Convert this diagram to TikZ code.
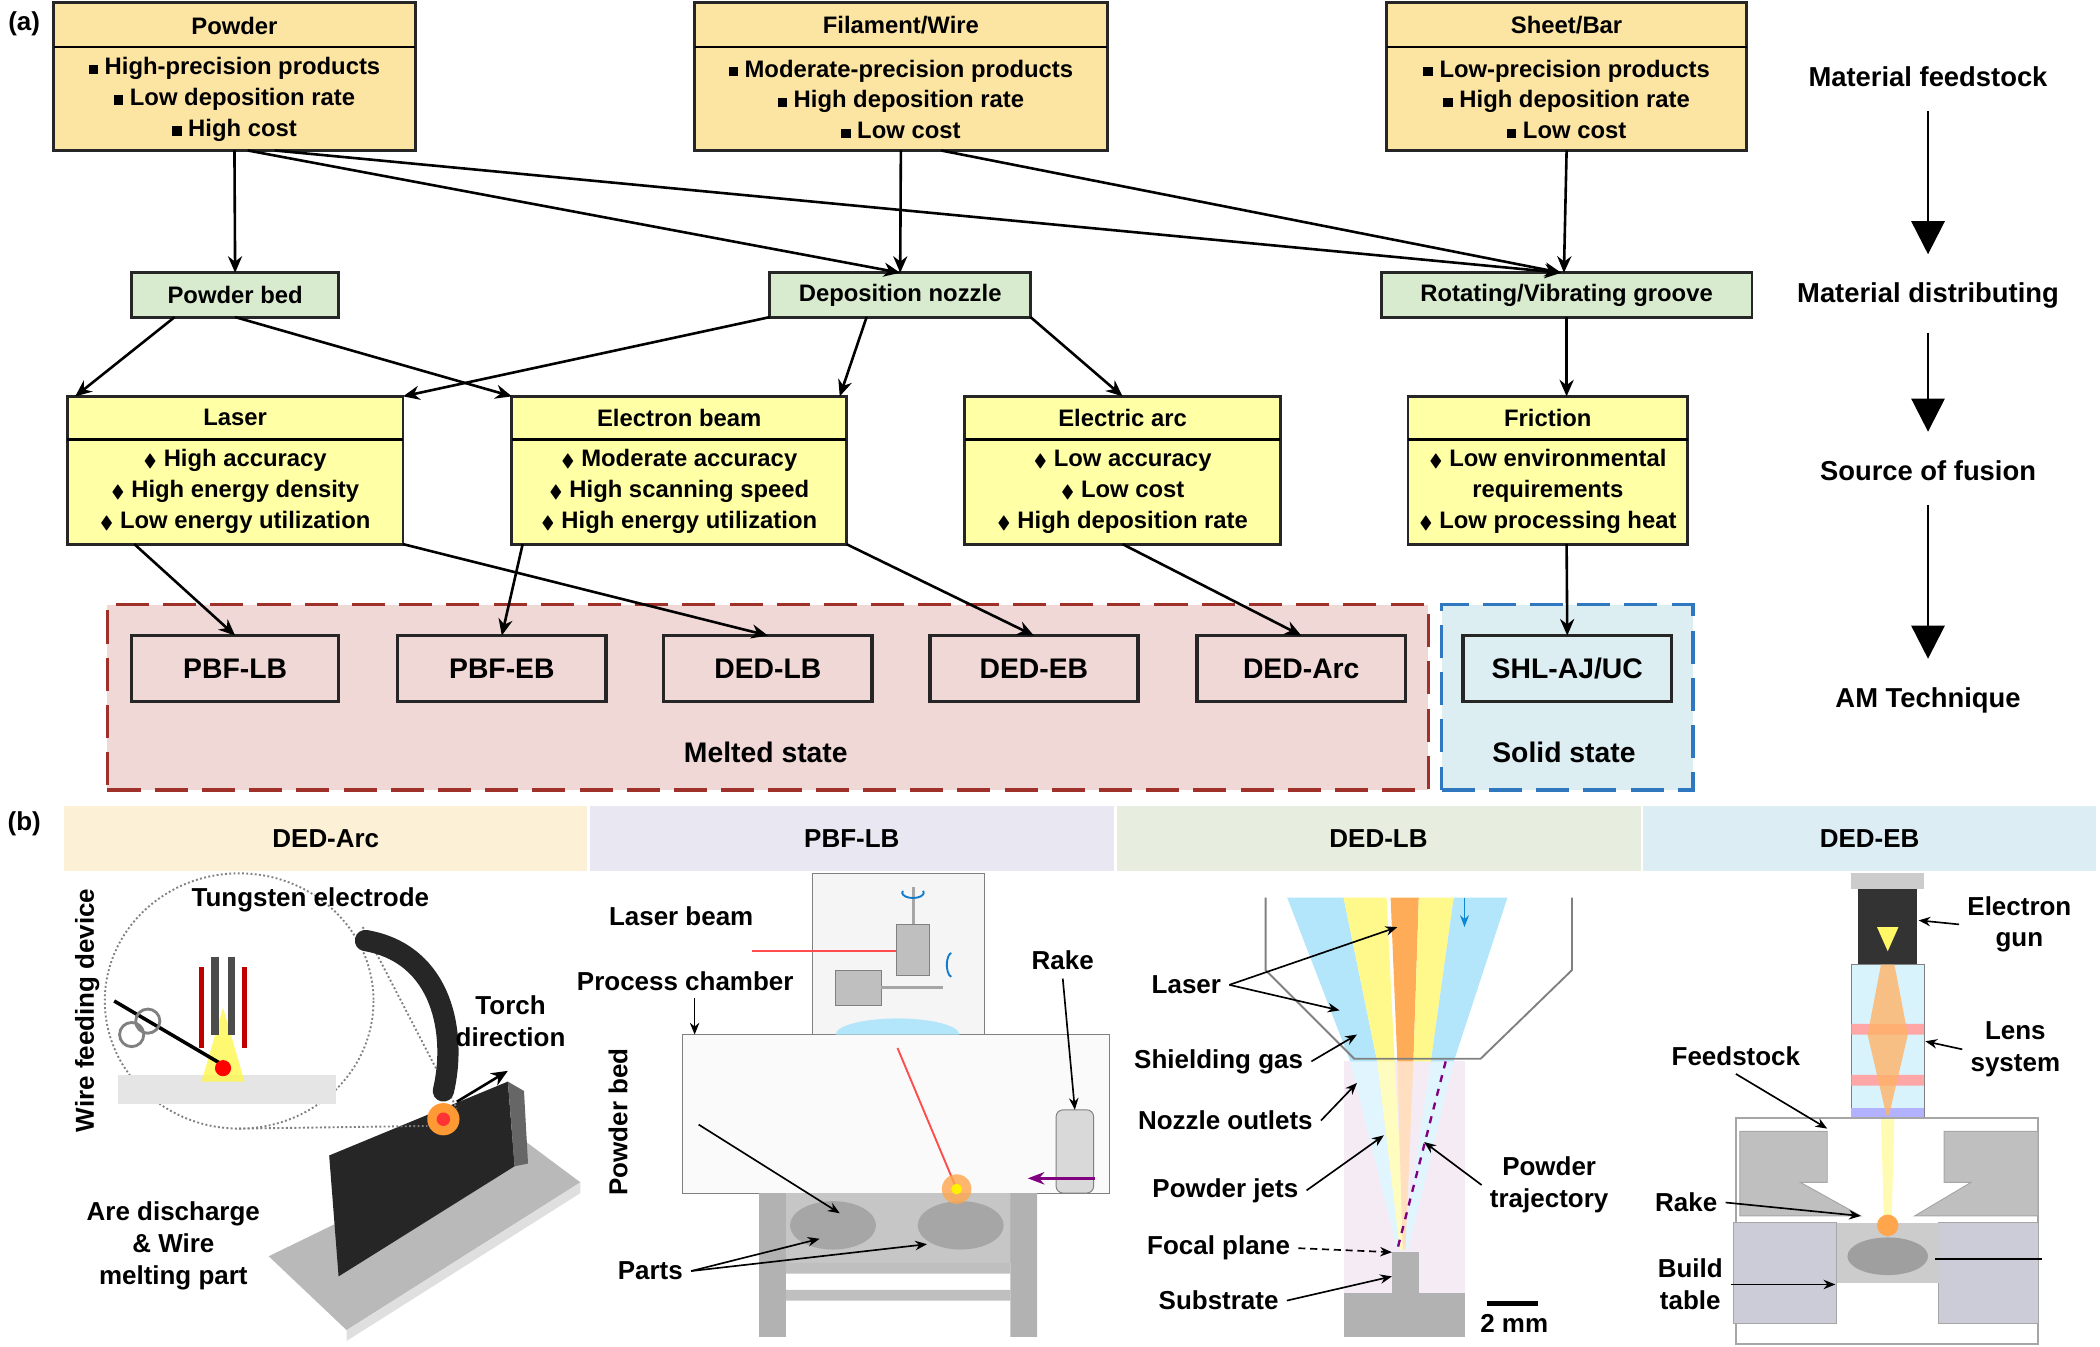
\documentclass[tikz,border=0pt]{standalone}
\usepackage{fontspec}
\setmainfont{Liberation Sans}
\usepackage{amssymb}
\usetikzlibrary{arrows.meta,calc}
\definecolor{feedc}{HTML}{FCE4A2}
\definecolor{distc}{HTML}{D9EBCF}
\definecolor{fusec}{HTML}{FFFFA6}
\definecolor{meltc}{HTML}{F0D8D7}
\definecolor{meltd}{HTML}{A0302A}
\definecolor{solc}{HTML}{DDEEF3}
\definecolor{sold}{HTML}{2F78C0}
\definecolor{hArc}{HTML}{FCF0D6}
\definecolor{hPbf}{HTML}{E9E7F1}
\definecolor{hLb}{HTML}{E8EEDF}
\definecolor{hEb}{HTML}{DCEDF3}
\newcommand\sq{\rule[0.05ex]{0.75ex}{0.75ex}\ }
\newcommand\dm{{\fontsize{7.5}{8}\selectfont$\blacklozenge$}\ }
% box from corner to corner, in pixels of the reference
\newcommand\bx[6]{\node[#6, minimum width={(#4-#2)*0.02cm}, minimum height={(#5-#3)*0.02cm}] (#1) at ({(#2+#4)/2},{(#3+#5)/2}) {};}
\tikzset{
    box/.style = {draw=black!85, line width=1.2pt, inner sep=0, outer sep=0},
    feed/.style = {box, fill=feedc},
    dist/.style = {box, fill=distc},
    fuse/.style = {box, fill=fusec},
    tech/.style = {draw=black!85, line width=1.5pt, fill=meltc, inner sep=0, outer sep=0},
    head/.style = {inner sep=0, outer sep=0},
    txt/.style = {font=\fontsize{10.1}{13.1}\selectfont\bfseries, align=center},
    ttl/.style = {font=\fontsize{12}{14}\selectfont\bfseries},
    lbl/.style = {font=\fontsize{11}{13.5}\selectfont\bfseries, align=center},
    side/.style = {font=\fontsize{11.6}{13}\selectfont\bfseries},
    arr/.style = {-{Stealth[length=7pt,width=6pt]}, line width=1.1pt},
    thin/.style = {-{Stealth[length=5pt,width=4pt]}, line width=0.7pt},
    big/.style = {-{Triangle[length=14pt,width=14pt]}, line width=1.1pt}
}
\begin{document}
\begin{tikzpicture}[x=0.02cm, y=-0.02cm]
    \useasboundingbox (0,0) rectangle (1563,1002);
    % ---------- (a) ----------
    \node[lbl] at (18,18) {(a)};
    \bx{melt}{80}{450}{1063}{588}{draw=meltd, fill=meltc, dashed, dash pattern=on 14pt off 6pt, line width=1.4pt, inner sep=0}
    \bx{solid}{1073}{450}{1260}{588}{draw=sold, fill=solc, dashed, dash pattern=on 14pt off 6pt, line width=1.4pt, inner sep=0}
    \node[ttl] at (570,560) {Melted state};
    \node[ttl] at (1164,560) {Solid state};

    % feedstock
    \bx{powder}{40}{2}{309}{112}{feed}
    \bx{fil}{517}{2}{824}{112}{feed}
    \bx{sheet}{1032}{2}{1300}{112}{feed}
    \foreach \n in {powder, fil, sheet}
        \draw[line width=1.2pt] ($(\n.north west)+(0,33)$) -- ($(\n.north east)+(0,33)$);
    \node[txt] at ($(powder.north)+(0,17)$) {Powder};
    \node[txt] at ($(powder.north)+(0,72)$) {\sq High-precision products\\ \sq Low deposition rate\\ \sq High cost};
    \node[txt] at ($(fil.north)+(0,17)$) {Filament/Wire};
    \node[txt] at ($(fil.north)+(0,72)$) {\sq Moderate-precision products\\ \sq High deposition rate\\ \sq Low cost};
    \node[txt] at ($(sheet.north)+(0,17)$) {Sheet/Bar};
    \node[txt] at ($(sheet.north)+(0,72)$) {\sq Low-precision products\\ \sq High deposition rate\\ \sq Low cost};

    % distributing
    \bx{pbed}{98}{203}{252}{236}{dist}
    \bx{nozzle}{573}{203}{767}{236}{dist}
    \bx{groove}{1028}{203}{1304}{236}{dist}
    \node[txt] at (pbed) {Powder bed};
    \node[txt] at (nozzle) {Deposition nozzle};
    \node[txt] at (groove) {Rotating/Vibrating groove};

    % fusion sources
    \bx{laser}{50}{295}{300}{405}{fuse}
    \bx{ebeam}{381}{295}{630}{405}{fuse}
    \bx{arc}{718}{295}{953}{405}{fuse}
    \bx{fric}{1048}{295}{1256}{405}{fuse}
    \foreach \n in {laser, ebeam, arc, fric}
        \draw[line width=1.2pt] ($(\n.north west)+(0,32)$) -- ($(\n.north east)+(0,32)$);
    \node[txt] at ($(laser.north)+(0,16)$) {Laser};
    \node[txt] at ($(laser.north)+(0,71)$) {\dm High accuracy\\ \dm High energy density\\ \dm Low energy utilization};
    \node[txt] at ($(ebeam.north)+(0,16)$) {Electron beam};
    \node[txt] at ($(ebeam.north)+(0,71)$) {\dm Moderate accuracy\\ \dm High scanning speed\\ \dm High energy utilization};
    \node[txt] at ($(arc.north)+(0,16)$) {Electric arc};
    \node[txt] at ($(arc.north)+(0,71)$) {\dm Low accuracy\\ \dm Low cost\\ \dm High deposition rate};
    \node[txt] at ($(fric.north)+(0,16)$) {Friction};
    \node[txt] at ($(fric.north)+(0,71)$) {\dm Low environmental\\ requirements\\ \dm Low processing heat};

    % techniques
    \bx{pbflb}{98}{473}{252}{522}{tech}
    \bx{pbfeb}{296}{473}{451}{522}{tech}
    \bx{dedlb}{494}{473}{649}{522}{tech}
    \bx{dedeb}{692}{473}{847}{522}{tech}
    \bx{dedarc}{891}{473}{1046}{522}{tech}
    \bx{shl}{1089}{473}{1244}{522}{tech, fill=solc}
    \node[ttl] at (pbflb) {PBF-LB};
    \node[ttl] at (pbfeb) {PBF-EB};
    \node[ttl] at (dedlb) {DED-LB};
    \node[ttl] at (dedeb) {DED-EB};
    \node[ttl] at (dedarc) {DED-Arc};
    \node[ttl] at (shl) {SHL-AJ/UC};

    % connectors
    \draw[arr] (powder.south) -- (pbed.north);
    \draw[arr] ($(powder.south)+(10,0)$) -- (nozzle.north);
    \draw[arr] ($(powder.south)+(30,0)$) -- ($(groove.north)+(-4,0)$);
    \draw[arr] (fil.south) -- (nozzle.north);
    \draw[arr] ($(fil.south)+(30,0)$) -- ($(groove.north)+(-4,0)$);
    \draw[arr] (sheet.south) -- ($(groove.north)+(-2,0)$);
    \draw[arr] ($(pbed.south)+(-45,0)$) -- ($(laser.north west)+(6,0)$);
    \draw[arr] (pbed.south) -- (ebeam.north west);
    \draw[arr] (nozzle.south west) -- (laser.north east);
    \draw[arr] ($(nozzle.south)+(-25,0)$) -- ($(ebeam.north east)+(-5,0)$);
    \draw[arr] (nozzle.south east) -- (arc.north);
    \draw[arr] (groove.south) -- ($(fric.north)+(14,0)$);
    \draw[arr] ($(laser.south)+(-75,0)$) -- (pbflb.north);
    \draw[arr] (laser.south east) -- (dedlb.north);
    \draw[arr] ($(ebeam.south west)+(8,0)$) -- (pbfeb.north);
    \draw[arr] (ebeam.south east) -- (dedeb.north);
    \draw[arr] (arc.south) -- (dedarc.north);
    \draw[arr] ($(fric.south)+(14,0)$) -- (shl.north);

    % stages
    \node[side] (s1) at (1435,57) {Material feedstock};
    \node[side] (s2) at (1435,220) {Material distributing};
    \node[side] (s3) at (1435,350) {Source of fusion};
    \node[side] (s4) at (1435,521) {AM Technique};
    \draw[big] (s1.south) ++(0,12) -- ($(s2.north)+(0,-15)$);
    \draw[big] (s2.south) ++(0,12) -- ($(s3.north)+(0,-15)$);
    \draw[big] (s3.south) ++(0,12) -- ($(s4.north)+(0,-15)$);

    % ---------- (b) ----------
    \node[lbl] at (18,613) {(b)};
    \bx{hArc}{48}{600}{437}{648}{head, fill=hArc}
    \bx{hPbf}{439}{600}{829}{648}{head, fill=hPbf}
    \bx{hLb}{831}{600}{1221}{648}{head, fill=hLb}
    \bx{hEb}{1223}{600}{1560}{648}{head, fill=hEb}
    \node[ttl, font=\fontsize{11}{13}\selectfont\bfseries] at (hArc) {DED-Arc};
    \node[ttl, font=\fontsize{11}{13}\selectfont\bfseries] at (hPbf) {PBF-LB};
    \node[ttl, font=\fontsize{11}{13}\selectfont\bfseries] at (hLb) {DED-LB};
    \node[ttl, font=\fontsize{11}{13}\selectfont\bfseries] at (hEb) {DED-EB};

    % DED-Arc scene
    \fill[gray!55] (200,935) -- (385,845) -- (432,880) -- (258,990) -- cycle;
    \fill[gray!25] (258,990) -- (432,880) -- (432,888) -- (258,998) -- cycle;
    \fill[black!85] (245,860) -- (378,805) -- (383,868) -- (252,950) -- cycle;
    \fill[black!60] (378,805) -- (390,812) -- (393,866) -- (383,868) -- cycle;
    \draw[gray, densely dotted, line width=0.8pt] (178,745) ellipse (100 and 95);
    \draw[gray, densely dotted, line width=0.8pt] (178,840) -- (318,838) (270,690) -- (340,825);
    \draw[black!85, line width=9pt, line cap=round] (272,700) .. controls (330,710) and (340,770) .. (330,812);
    \fill[orange!80] (330,833) circle (12);
    \fill[red!80] (330,833) circle (5);
    \draw[arr] (340,820) -- (378,797);
    \fill[gray!20] (88,800) rectangle (250,822);
    \fill[yellow!70, opacity=.8] (150,805) -- (182,805) -- (166,750) -- cycle;
    \draw[red!75!black, line width=2.5pt] (150,720) -- (150,780) (182,720) -- (182,780);
    \draw[black!70, line width=3pt] (160,712) -- (160,770) (172,712) -- (172,770);
    \draw[black, line width=1.5pt] (85,745) -- (170,795);
    \draw[gray, line width=1.2pt] (98,770) circle (9) (110,760) circle (9);
    \fill[red] (166,795) circle (6);
    \node[lbl, rotate=90] at (65,752) {Wire feeding device};
    \node[lbl] at (231,670) {Tungsten electrode};
    \node[lbl] at (380,760) {Torch\\direction};
    \node[lbl] at (129,927) {Are discharge\\\& Wire\\melting part};

    % PBF-LB scene
    \draw[gray, fill=gray!8] (605,650) rectangle (733,770);
    \draw[gray, fill=gray!4] (508,770) rectangle (826,888);
    \fill[cyan!30] (622,770) arc (180:360:46 and 12) -- cycle;
    \draw[gray, fill=gray!50] (667,688) rectangle (692,726);
    \draw[gray, fill=gray!50] (622,722) rectangle (656,748);
    \draw[gray!70, line width=1pt] (656,735) -- (702,735) (680,688) -- (680,660);
    \draw[cyan!60!blue, line width=0.8pt] (672,663) arc (200:-20:8 and 4);
    \draw[cyan!60!blue, line width=0.8pt] (708,727) arc (100:260:4 and 9);
    \draw[red!70, line width=0.8pt] (560,708) -- (667,708);
    \draw[red!70, line width=0.8pt] (668,780) -- (712,885);
    \fill[gray!45] (565,888) rectangle (772,940);
    \fill[gray!70] (620,912) ellipse (32 and 18) (715,912) ellipse (32 and 18);
    \fill[orange!70, opacity=.8] (712,885) circle (11);
    \fill[yellow] (712,885) circle (4);
    \fill[gray!60] (565,888) rectangle (585,995) (752,888) rectangle (772,995);
    \fill[gray!50] (585,940) rectangle (752,948) (585,960) rectangle (752,968);
    \draw[gray, fill=gray!30, rounded corners=3pt] (786,826) rectangle (814,888);
    \draw[-{Stealth[length=7pt]}, violet, line width=1.5pt] (815,877) -- (765,877);
    \node[lbl] (pbfbeam) at (507,682) {Laser beam};
    \node[lbl] (pbfcham) at (510,730) {Process chamber};
    \node[lbl] (pbfrake) at (791,715) {Rake};
    \node[lbl, rotate=90] (pbfbed) at (460,835) {Powder bed};
    \node[lbl] (pbfparts) at (484,946) {Parts};
    \draw[thin] (517,743) -- (517,770);
    \draw[thin] (pbfrake.south) -- (800,826);
    \draw[thin] (520,837) -- (625,903);
    \draw[thin] (pbfparts.east) -- (610,922);
    \draw[thin] (pbfparts.east) -- (690,926);

    % DED-LB scene
    \fill[violet!8] (1000,790) -- (1090,790) -- (1090,995) -- (1000,995) -- cycle;
    \fill[cyan!12] (1005,790) -- (1025,790) -- (1045,930) -- (1040,930) -- cycle;
    \fill[cyan!12] (1065,790) -- (1082,790) -- (1048,930) -- (1044,930) -- cycle;
    \fill[yellow!25] (1025,790) -- (1038,790) -- (1046,930) -- (1042,930) -- cycle;
    \fill[orange!25] (1040,790) -- (1052,790) -- (1046,930) -- (1044,930) -- cycle;
    \fill[cyan!30] (958,668) -- (1000,668) -- (1025,790) -- (1005,790) -- cycle;
    \fill[yellow!45] (1000,668) -- (1032,668) -- (1038,790) -- (1025,790) -- cycle;
    \fill[orange!65] (1035,668) -- (1056,668) -- (1052,790) -- (1040,790) -- cycle;
    \fill[yellow!45] (1056,668) -- (1082,668) -- (1065,790) -- (1052,790) -- cycle;
    \fill[cyan!30] (1082,668) -- (1122,668) -- (1082,790) -- (1065,790) -- cycle;
    \draw[gray, line width=0.8pt] (942,668) -- (942,722) -- (1008,788) -- (1102,788) -- (1170,722) -- (1170,668);
    \draw[-{Stealth[length=5pt]}, cyan!70!blue, line width=0.8pt] (1090,668) -- (1090,690);
    \draw[violet, dashed, line width=1pt] (1076,790) -- (1040,930);
    \fill[gray!60] (1036,932) rectangle (1056,962);
    \fill[gray!60] (1000,962) rectangle (1090,995);
    \draw[line width=2pt] (1107,970) -- (1145,970);
    \node[lbl] (lblaser) at (883,733) {Laser};
    \node[lbl] (lbgas) at (907,790) {Shielding gas};
    \node[lbl] (lbout) at (912,834) {Nozzle outlets};
    \node[lbl] (lbjet) at (912,886) {Powder jets};
    \node[lbl] (lbtraj) at (1153,882) {Powder\\trajectory};
    \node[lbl] (lbfoc) at (907,929) {Focal plane};
    \node[lbl] (lbsub) at (907,968) {Substrate};
    \node[lbl] at (1127,985) {2 mm};
    \draw[thin] (lblaser.east) -- (1040,690);
    \draw[thin] (lblaser.east) -- (997,752);
    \draw[thin] (lbgas.east) -- (1010,770);
    \draw[thin] (lbout.east) -- (1010,806);
    \draw[thin] (lbjet.east) -- (1030,845);
    \draw[thin] (lbtraj.west) -- (1060,850);
    \draw[thin, densely dashed] (lbfoc.east) -- (1036,932);
    \draw[thin] (lbsub.east) -- (1036,950);

    % DED-EB scene
    \fill[black!80] (1383,652) rectangle (1427,718);
    \fill[gray!40] (1378,650) rectangle (1432,662);
    \fill[yellow!60] (1397,690) -- (1413,690) -- (1405,708) -- cycle;
    \draw[gray, fill=cyan!15] (1378,718) rectangle (1432,832);
    \fill[red!35] (1378,762) rectangle (1432,770) (1378,800) rectangle (1432,808);
    \fill[blue!30] (1378,825) rectangle (1432,832);
    \fill[orange!60, opacity=.8] (1400,718) -- (1410,718) -- (1420,770) -- (1406,830) -- (1404,830) -- (1390,770) -- cycle;
    \fill[yellow!30] (1400,832) -- (1410,832) -- (1408,905) -- (1402,905) -- cycle;
    \draw[gray!70, line width=0.8pt] (1292,832) rectangle (1517,1000);
    \draw[gray!70, fill=gray!50] (1295,842) -- (1360,842) -- (1360,880) -- (1340,880) -- (1385,905) -- (1295,905) -- cycle;
    \draw[gray!70, fill=gray!50] (1517,842) -- (1447,842) -- (1447,880) -- (1467,880) -- (1425,905) -- (1517,905) -- cycle;
    \draw[gray!70, fill=blue!15!gray!35] (1290,910) rectangle (1367,985) (1443,910) rectangle (1517,985);
    \fill[gray!40] (1367,910) rectangle (1443,955);
    \fill[gray!75] (1405,935) ellipse (30 and 14);
    \fill[orange!70] (1405,912) circle (8);
    \node[lbl] (ebgun) at (1503,688) {Electron\\gun};
    \node[lbl] (eblens) at (1500,781) {Lens\\system};
    \node[lbl] (ebfeed) at (1292,786) {Feedstock};
    \node[lbl] (ebrake) at (1255,895) {Rake};
    \node[lbl] (ebtable) at (1258,956) {Build\\table};
    \draw[thin] (ebgun.west) -- (1428,685);
    \draw[thin] (eblens.west) -- (1433,775);
    \draw[thin] (ebfeed.south) -- (1360,840);
    \draw[thin] (ebrake.east) -- (1385,905);
    \draw[thin] (ebtable.east) -- (1366,956);
    \draw[line width=0.7pt] (1520,937) -- (1440,937);
\end{tikzpicture}
\end{document}
